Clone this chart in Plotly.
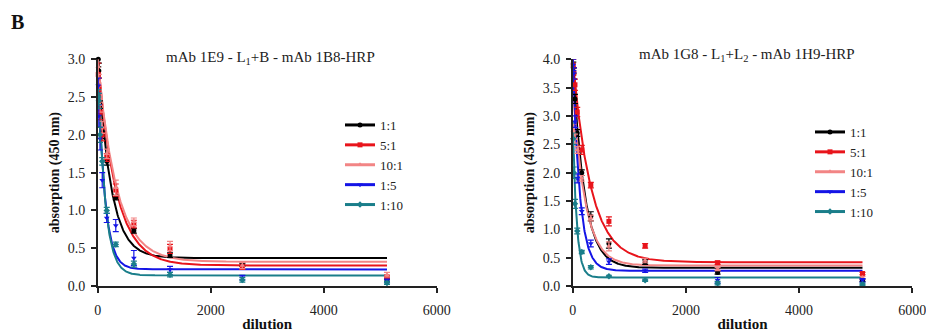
import numpy as np
import plotly.graph_objects as go

# ---------------- data ----------------
dilution = [10, 20, 40, 80, 160, 320, 640, 1280, 2560, 5120]
series_names = ["1:1", "5:1", "10:1", "1:5", "1:10"]
colors = ["#000000", "#e8141b", "#f28585", "#1414e6", "#1a7e8a"]
symbols = ["circle", "square", "triangle-up", "triangle-down", "diamond"]

# left panel: mAb 1E9 - L1+B - mAb 1B8-HRP
left_1_1 = [3.0, 2.85, 2.4, 2.0, 1.65, 1.17, 0.73, 0.41, 0.28, 0.10]
left_5_1 = [2.8, 2.6, 2.3, 2.0, 1.7, 1.27, 0.82, 0.49, 0.25, 0.12]
left_10_1 = [2.9, 2.7, 2.4, 2.1, 1.75, 1.30, 0.85, 0.53, 0.27, 0.15]
left_1_5 = [2.65, 2.25, 1.95, 1.40, 0.90, 0.80, 0.37, 0.22, 0.11, 0.07]
left_1_10 = [2.5, 2.45, 2.0, 1.65, 1.0, 0.55, 0.29, 0.15, 0.08, 0.04]
left_err_1_1 = [0.1, 0.1, 0.05, 0.05, 0.05, 0.03, 0.03, 0.03, 0.02, 0.02]
left_err_5_1 = [0.15, 0.15, 0.1, 0.08, 0.05, 0.08, 0.05, 0.06, 0.03, 0.02]
left_err_10_1 = [0.15, 0.1, 0.1, 0.08, 0.06, 0.1, 0.05, 0.06, 0.04, 0.03]
left_err_1_5 = [0.1, 0.15, 0.15, 0.1, 0.06, 0.08, 0.1, 0.04, 0.03, 0.02]
left_err_1_10 = [0.1, 0.1, 0.1, 0.05, 0.04, 0.03, 0.04, 0.03, 0.03, 0.02]
# fitted one-phase decay parameters
left_top = [3.05, 3.0, 3.0, 3.0, 3.0]
left_plateau = [0.37, 0.27, 0.32, 0.22, 0.14]
left_k = [0.0044, 0.0031, 0.0030, 0.0083, 0.0080]

# right panel: mAb 1G8 - L1+L2 - mAb 1H9-HRP
right_1_1 = [3.85, 3.75, 3.3, 2.7, 2.0, 1.23, 0.75, 0.42, 0.24, 0.10]
right_5_1 = [3.9, 3.75, 3.55, 3.07, 2.4, 1.78, 1.14, 0.71, 0.41, 0.22]
right_10_1 = [2.75, 2.7, 2.6, 2.4, 1.9, 1.20, 0.70, 0.45, 0.30, 0.15]
right_1_5 = [3.9, 3.75, 2.9, 1.9, 1.32, 0.75, 0.43, 0.27, 0.10, 0.10]
right_1_10 = [2.6, 2.0, 1.45, 0.97, 0.60, 0.33, 0.17, 0.10, 0.05, 0.03]
right_err_1_1 = [0.1, 0.1, 0.08, 0.06, 0.05, 0.08, 0.08, 0.04, 0.03, 0.02]
right_err_5_1 = [0.1, 0.1, 0.1, 0.08, 0.08, 0.05, 0.08, 0.04, 0.03, 0.02]
right_err_10_1 = [0.1, 0.1, 0.08, 0.06, 0.05, 0.05, 0.08, 0.04, 0.03, 0.02]
right_err_1_5 = [0.1, 0.1, 0.1, 0.08, 0.06, 0.06, 0.05, 0.03, 0.05, 0.03]
right_err_1_10 = [0.1, 0.1, 0.08, 0.05, 0.03, 0.03, 0.02, 0.02, 0.03, 0.02]
right_top = [4.0, 4.0, 3.5, 4.0, 2.9]
right_plateau = [0.32, 0.42, 0.36, 0.27, 0.15]
right_k = [0.0049, 0.0031, 0.0046, 0.0080, 0.0145]

left_vals = [left_1_1, left_5_1, left_10_1, left_1_5, left_1_10]
left_errs = [left_err_1_1, left_err_5_1, left_err_10_1, left_err_1_5, left_err_1_10]
right_vals = [right_1_1, right_5_1, right_10_1, right_1_5, right_1_10]
right_errs = [right_err_1_1, right_err_5_1, right_err_10_1, right_err_1_5, right_err_1_10]

FONT = "Liberation Serif, Times New Roman, serif"
W, H = 926, 334

fig = go.Figure()
xfit = np.linspace(0, dilution[-1], 800)


def add_panel(vals, errs, tops, plats, ks, xa, ya, legend):
    for i, name in enumerate(series_names):
        yfit = plats[i] + (tops[i] - plats[i]) * np.exp(-ks[i] * xfit)
        fig.add_trace(go.Scatter(x=xfit, y=yfit, mode="lines", xaxis=xa, yaxis=ya,
                                 line=dict(color=colors[i], width=2),
                                 showlegend=False, hoverinfo="skip"))
    for i, name in enumerate(series_names):
        fig.add_trace(go.Scatter(x=dilution, y=vals[i], mode="markers", xaxis=xa, yaxis=ya,
                                 marker=dict(color=colors[i], symbol=symbols[i], size=5),
                                 error_y=dict(type="data", array=errs[i], color=colors[i],
                                              thickness=1.2, width=3),
                                 cliponaxis=False, showlegend=False, name=name))
    for i, name in enumerate(series_names):
        fig.add_trace(go.Scatter(x=[None], y=[None], mode="lines+markers", xaxis=xa, yaxis=ya,
                                 line=dict(color=colors[i], width=3),
                                 marker=dict(color=colors[i], symbol=symbols[i], size=5),
                                 name=name, legend=legend))


add_panel(left_vals, left_errs, left_top, left_plateau, left_k, "x", "y", "legend")
add_panel(right_vals, right_errs, right_top, right_plateau, right_k, "x2", "y2", "legend2")

ydom = [(H - 286) / H, (H - 59.3) / H]
axis_common = dict(showline=True, linecolor="#222", linewidth=1.5, ticks="outside",
                   ticklen=5, tickwidth=1.5, tickcolor="#222", showgrid=False, zeroline=False,
                   automargin=False, ticklabeloverflow="allow",
                   tickfont=dict(family=FONT, size=14, color="#222"))
xtitle = dict(text="<b>dilution</b>", font=dict(family=FONT, size=15, color="#111"), standoff=2)
ytitle = dict(text="<b>absorption (450 nm)</b>", font=dict(family=FONT, size=14, color="#111"),
              standoff=5)

fig.update_layout(
    width=W, height=H, margin=dict(l=0, r=0, t=0, b=0, autoexpand=False),
    paper_bgcolor="white", plot_bgcolor="white",
    font=dict(family=FONT, size=14, color="#222"),
    xaxis=dict(domain=[97.7 / W, 436.7 / W], range=[0, 6000], tickvals=[0, 2000, 4000, 6000],
               anchor="y", title=xtitle, ticklabelstandoff=5, **axis_common),
    yaxis=dict(domain=ydom, range=[0, 3.0], tickvals=[0, 0.5, 1, 1.5, 2, 2.5, 3],
               ticktext=["0.0", "0.5", "1.0", "1.5", "2.0", "2.5", "3.0"], anchor="x",
               title=ytitle, ticklabelstandoff=3, **axis_common),
    xaxis2=dict(domain=[572.7 / W, 912.3 / W], range=[0, 6000], tickvals=[0, 2000, 4000, 6000],
                anchor="y2", title=xtitle, ticklabelstandoff=5, **axis_common),
    yaxis2=dict(domain=ydom, range=[0, 4.0], tickvals=[0, 0.5, 1, 1.5, 2, 2.5, 3, 3.5, 4],
                ticktext=["0.0", "0.5", "1.0", "1.5", "2.0", "2.5", "3.0", "3.5", "4.0"],
                anchor="x2", title=ytitle, ticklabelstandoff=3, **axis_common),
    legend=dict(x=340 / W, y=(H - 110) / H, xanchor="left", yanchor="top",
                bgcolor="rgba(0,0,0,0)", font=dict(family=FONT, size=13, color="#222"),
                itemwidth=30, tracegroupgap=0),
    legend2=dict(x=810 / W, y=(H - 117) / H, xanchor="left", yanchor="top",
                 bgcolor="rgba(0,0,0,0)", font=dict(family=FONT, size=13, color="#222"),
                 itemwidth=30, tracegroupgap=0),
    annotations=[
        dict(text="<b>B</b>", x=9 / W, y=(H - 9) / H, xref="paper", yref="paper",
             xanchor="left", yanchor="top", showarrow=False,
             font=dict(family=FONT, size=20, color="#111")),
        dict(text="mAb 1E9 - L<sub>1</sub>+B - mAb 1B8-HRP", x=270 / W, y=(H - 58) / H,
             xref="paper", yref="paper", xanchor="center", yanchor="middle", showarrow=False,
             font=dict(family=FONT, size=15, color="#222")),
        dict(text="mAb 1G8 - L<sub>1</sub>+L<sub>2</sub> - mAb 1H9-HRP", x=747 / W,
             y=(H - 55) / H, xref="paper", yref="paper", xanchor="center", yanchor="middle",
             showarrow=False, font=dict(family=FONT, size=15, color="#222")),
    ],
)

fig.write_html("out.html", config={"displayModeBar": False},
               post_script="document.body.style.margin='0px';document.body.style.padding='0px';")
